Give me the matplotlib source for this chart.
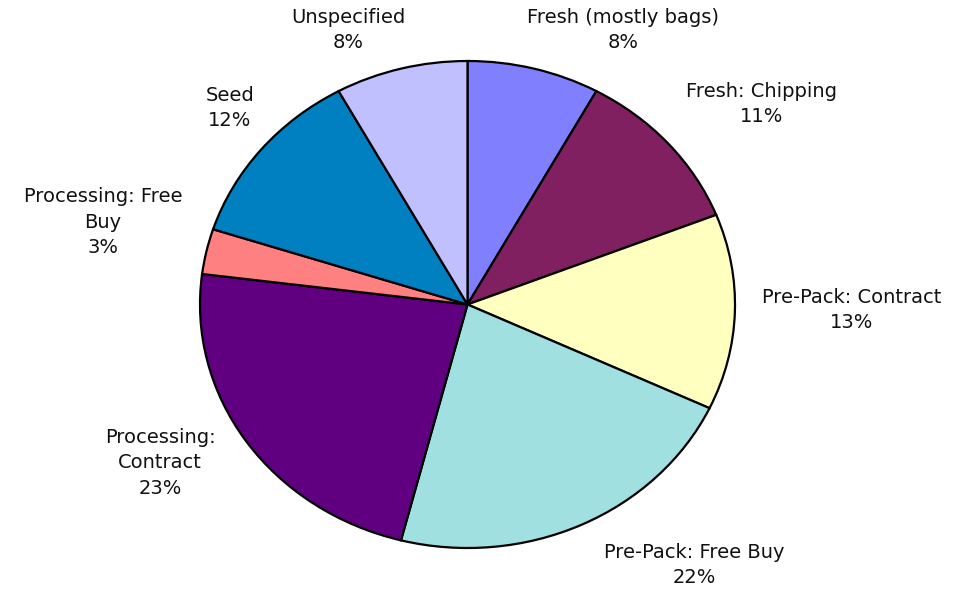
import matplotlib
matplotlib.use("Agg")
import matplotlib.pyplot as plt

# Share of potato usage by market segment (%), clockwise from 12 o'clock
categories = [
    "Fresh (mostly bags)",
    "Fresh: Chipping",
    "Pre-Pack: Contract",
    "Pre-Pack: Free Buy",
    "Processing:\nContract",
    "Processing: Free\nBuy",
    "Seed",
    "Unspecified",
]
shares = [8, 11, 13, 22, 23, 3, 12, 8]
colors = ["#8080FF", "#802060", "#FFFFC0", "#A0E0E0",
          "#600080", "#FF8080", "#0080C0", "#C0C0FF"]

# Canvas geometry in pixels
W, H = 965, 591
CX, CY = 467.5, 304.5      # pie centre
RX, RY = 267.5, 243.5      # horizontal / vertical radius (slightly oval)

# Label block centres in pixels
label_pos = [(623, 30), (762, 104), (852, 310), (694, 565),
             (160, 463), (103, 222), (230, 108), (348, 30)]

fig = plt.figure(figsize=(W / 100, H / 100), dpi=100)
ax = fig.add_axes([0, 0, 1, 1])

ax.pie(shares, colors=colors, startangle=90, counterclock=False,
       radius=1, center=(0, 0), frame=True,
       wedgeprops=dict(edgecolor="black", linewidth=1.6))
ax.set_xlim(-CX / RX, (W - CX) / RX)
ax.set_ylim(-(H - CY) / RY, CY / RY)
ax.set_aspect("auto")
ax.axis("off")

for name, val, (px, py) in zip(categories, shares, label_pos):
    ax.text((px - CX) / RX, (CY - py) / RY, f"{name}\n{val}%",
            ha="center", va="center", multialignment="center",
            fontsize=14, color="#111111", family="DejaVu Sans",
            linespacing=1.42)

fig.savefig("out.png", dpi=100)
